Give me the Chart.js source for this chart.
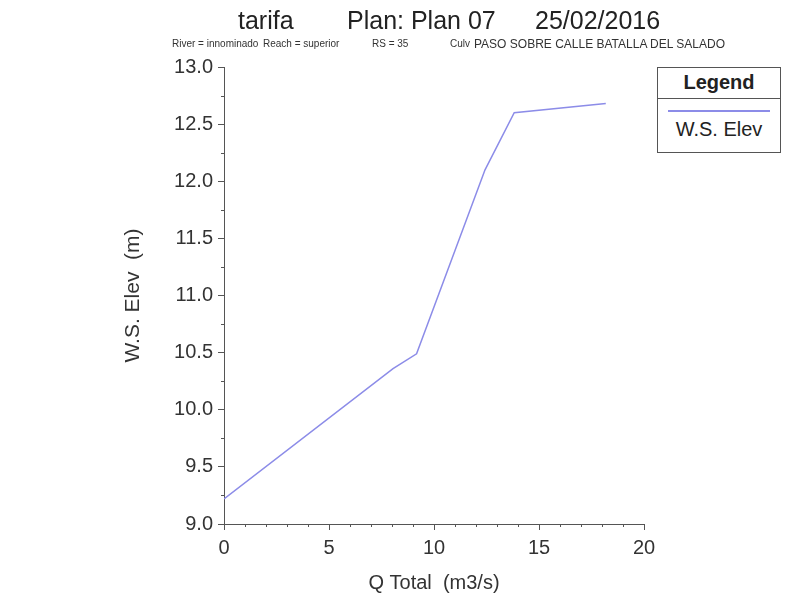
<!DOCTYPE html>
<html>
<head>
<meta charset="utf-8">
<title>tarifa - W.S. Elev vs Q Total</title>
<script src="https://cdn.jsdelivr.net/npm/chart.js@4.4.1/dist/chart.umd.min.js"></script>
<style>
  body { margin: 0; background: #fff; font-family: "Liberation Sans", Arial, sans-serif; }
  #wrap { position: relative; width: 792px; height: 608px; }
  #wrap canvas { position: absolute; left: 0; top: 0; }
  .t { position: absolute; white-space: pre; color: #222; line-height: 1; }
  .title { font-size: 25px; top: 8px; }
  .sub { font-size: 10px; top: 39px; color: #333; }
  .sub.caps { font-size: 12px; top: 38px; }
  #legend { position: absolute; left: 657px; top: 67px; width: 122px; height: 84px; border: 1px solid #555; background: #fff; }
  #legend .head { position: absolute; left: 0; right: 0; top: 0; height: 30px; border-bottom: 1px solid #555;
                  text-align: center; font-weight: bold; font-size: 20px; line-height: 29px; color: #222; }
  #legend .swatch { position: absolute; left: 10px; width: 102px; top: 42px; height: 2px; background: #8c8ce8; }
  #legend .name { position: absolute; left: 0; right: 0; top: 49px; text-align: center; font-size: 20px; line-height: 24px; color: #222; }
</style>
</head>
<body>
<div id="wrap">
  <canvas id="wsChart" width="792" height="608"></canvas>
  <span class="t title" style="left:238px">tarifa</span>
  <span class="t title" style="left:347px">Plan: Plan 07</span>
  <span class="t title" style="left:535px">25/02/2016</span>
  <span class="t sub" style="left:172px">River = innominado</span>
  <span class="t sub" style="left:263px">Reach = superior</span>
  <span class="t sub" style="left:372px">RS = 35</span>
  <span class="t sub" style="left:450px">Culv</span>
  <span class="t sub caps" style="left:474px">PASO SOBRE CALLE BATALLA DEL SALADO</span>
  <div id="legend">
    <div class="head">Legend</div>
    <div class="swatch"></div>
    <div class="name">W.S. Elev</div>
  </div>
</div>
<script>
const qTotal = [0, 8.05, 9.17, 12.43, 13.82, 18.18];
const wsElev = [9.22, 10.36, 10.49, 12.10, 12.60, 12.68];
const xTicks = [0, 5, 10, 15, 20];
const yTicks = [9.0, 9.5, 10.0, 10.5, 11.0, 11.5, 12.0, 12.5, 13.0];

const FONT = "'Liberation Sans', Arial, sans-serif";
const AXIS_COLOR = "#555";

// small unlabelled ticks between the labelled ones
const minorTicks = {
  id: "minorTicks",
  afterDraw(chart) {
    const { ctx, scales: { x, y } } = chart;
    ctx.save();
    ctx.strokeStyle = AXIS_COLOR;
    ctx.lineWidth = 1;
    ctx.beginPath();
    for (let v = xTicks[0]; v <= xTicks[xTicks.length - 1]; v += 1) {
      if (xTicks.includes(v)) continue;
      const px = Math.round(x.getPixelForValue(v)) + 0.5;
      ctx.moveTo(px, x.top);
      ctx.lineTo(px, x.top + 3);
    }
    for (let i = 0; i < yTicks.length - 1; i++) {
      const py = Math.round(y.getPixelForValue((yTicks[i] + yTicks[i + 1]) / 2)) + 0.5;
      ctx.moveTo(y.right, py);
      ctx.lineTo(y.right - 3, py);
    }
    ctx.stroke();
    ctx.restore();
  }
};

const points = qTotal.map((q, i) => ({ x: q, y: wsElev[i] }));

new Chart(document.getElementById("wsChart").getContext("2d"), {
  type: "scatter",
  data: {
    datasets: [{
      label: "W.S. Elev",
      data: points,
      showLine: true,
      borderColor: "#8c8ce8",
      borderWidth: 1.5,
      pointRadius: 0,
      tension: 0,
      fill: false
    }]
  },
  options: {
    responsive: false,
    animation: false,
    devicePixelRatio: 1,
    layout: { padding: { top: 67, right: 148, bottom: 0, left: 0 } },
    plugins: {
      legend: { display: false },
      tooltip: { enabled: false }
    },
    scales: {
      x: {
        type: "linear",
        min: xTicks[0],
        max: xTicks[xTicks.length - 1],
        afterBuildTicks: s => { s.ticks = xTicks.map(v => ({ value: v })); },
        afterFit: s => { s.height = 84; },
        grid: { display: true, drawOnChartArea: false, drawTicks: true, tickLength: 6, color: AXIS_COLOR },
        border: { display: true, color: AXIS_COLOR, width: 1 },
        ticks: { font: { size: 20, family: FONT }, color: "#333", padding: 6, maxRotation: 0 },
        title: { display: true, text: "Q Total  (m3/s)", color: "#333",
                 font: { size: 20, family: FONT }, padding: { top: 0, bottom: 13 } }
      },
      y: {
        type: "linear",
        min: yTicks[0],
        max: yTicks[yTicks.length - 1],
        afterBuildTicks: s => { s.ticks = yTicks.map(v => ({ value: v })); },
        afterFit: s => { s.width = 224; },
        grid: { display: true, drawOnChartArea: false, drawTicks: true, tickLength: 6, color: AXIS_COLOR },
        border: { display: true, color: AXIS_COLOR, width: 1 },
        ticks: { font: { size: 20, family: FONT }, color: "#333", padding: 5,
                 callback: v => Number(v).toFixed(1) },
        title: { display: true, text: "W.S. Elev  (m)", color: "#333",
                 font: { size: 21, family: FONT }, padding: { top: 121, bottom: 0 } }
      }
    }
  },
  plugins: [minorTicks]
});
</script>
</body>
</html>
